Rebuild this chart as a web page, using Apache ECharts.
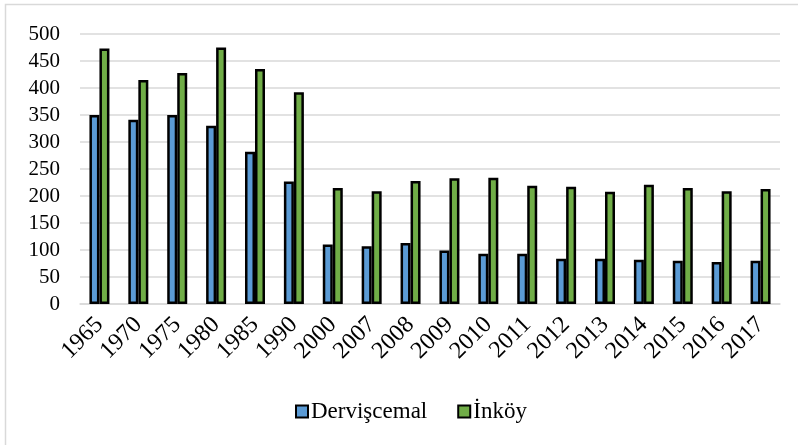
<!DOCTYPE html>
<html>
<head>
<meta charset="utf-8">
<script src="https://cdn.jsdelivr.net/npm/echarts@6/dist/echarts.min.js"></script>
<style>html,body{margin:0;padding:0;background:#fff}#c{width:798px;height:445px}</style>
</head>
<body>
<div id="c"></div>
<script>
const categories = ['1965','1970','1975','1980','1985','1990','2000','2007','2008','2009','2010','2011','2012','2013','2014','2015','2016','2017'];
const dervisValues = [350,341,350,330,282,227,110,107,113,99,93,93,84,84,82,80,78,80];
const inkoyValues = [473,415,428,475,435,392,215,209,228,233,234,219,217,208,221,215,209,213];
const seriesNames = ['Dervişcemal','İnköy'];

const chart = echarts.init(document.getElementById('c'), null, {renderer:'canvas'});
const font = '"Liberation Serif","Times New Roman",serif';
chart.setOption({
  animation:false,
  backgroundColor:'#fff',
  graphic:[{type:'rect',shape:{x:5.5,y:4.5,width:820,height:460},style:{fill:'none',stroke:'#d9d9d9',lineWidth:1.5},silent:true}],
  grid:{left:80,right:18,top:34,bottom:141},
  legend:{
    top:395, left:290,
    itemWidth:12, itemHeight:12, itemGap:30,
    icon:'rect',
    itemStyle:{borderColor:'#000',borderWidth:2},
    textStyle:{fontFamily:font,fontSize:23,color:'#000',padding:[0,0,0,-2]},
    data:seriesNames
  },
  xAxis:{
    type:'category', data:categories,
    axisLine:{lineStyle:{color:'#d9d9d9',width:1.5}},
    axisTick:{show:false},
    axisLabel:{rotate:45,fontFamily:font,fontSize:24,color:'#000',margin:17,interval:0}
  },
  yAxis:{
    type:'value', min:0, max:500, interval:50,
    axisLine:{show:false}, axisTick:{show:false},
    splitLine:{lineStyle:{color:'#d9d9d9',width:1.5}},
    axisLabel:{fontFamily:font,fontSize:21,color:'#000',margin:20}
  },
  series:[
    {name:seriesNames[0],type:'bar',data:dervisValues,barWidth:10,barGap:'0%',
     itemStyle:{color:'#5B9BD5',borderColor:'#000',borderWidth:2.5}},
    {name:seriesNames[1],type:'bar',data:inkoyValues,barWidth:10,barGap:'0%',
     itemStyle:{color:'#70AD47',borderColor:'#000',borderWidth:2.5}}
  ]
});
</script>
</body>
</html>
